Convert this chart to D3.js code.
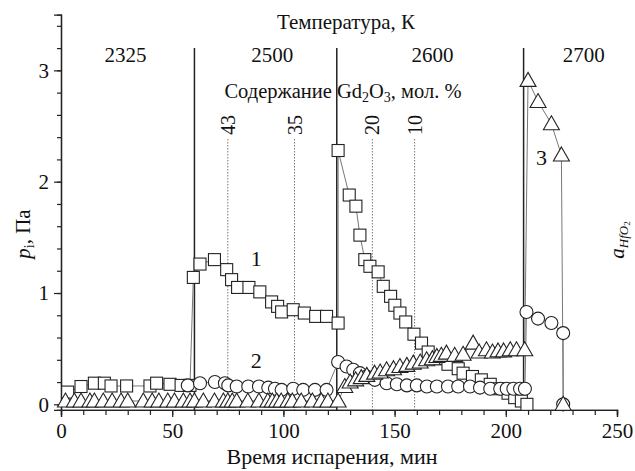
<!DOCTYPE html>
<html>
<head>
<meta charset="utf-8">
<script src="https://cdn.jsdelivr.net/npm/d3@7/dist/d3.min.js"></script>
<style>
  body { margin: 0; background: #fff; }
  svg text { font-family: 'Liberation Serif', 'Times New Roman', serif; fill: #111; }
</style>
</head>
<body>
<div id="chart"></div>
<script>
// ---- data: time (min) and pressure (Pa) ----
let s1Time = [3, 9, 15, 19.5, 22.5, 29.5, 40, 43, 49, 54, 58,
  59.5, 62.5, 69, 74.5, 76.7, 79.4, 84.5, 89.4, 94.7, 97.4, 99.2, 104.4, 109.4, 114.5, 119.4, 124.6,
  124.6, 129.6, 132.6, 134.4, 136.6, 138.9, 142.6, 144.9, 148.2, 150.1, 152.4, 155, 158.7, 162.1, 165.1, 169.6,
  174, 178.6, 180.8, 185, 189, 193, 197, 201, 204, 207, 209.5]
let s1Val = [0.11, 0.16, 0.19, 0.19, 0.165, 0.165, 0.165, 0.19, 0.18, 0.17, 0.17,
  1.14, 1.26, 1.30, 1.21, 1.12, 1.05, 1.05, 1.01, 0.92, 0.88, 0.83, 0.85, 0.82, 0.79, 0.79, 0.73,
  2.28, 1.88, 1.78, 1.52, 1.30, 1.24, 1.19, 1.06, 0.97, 0.89, 0.82, 0.74, 0.63, 0.55, 0.47, 0.41,
  0.36, 0.32, 0.28, 0.25, 0.22, 0.18, 0.14, 0.10, 0.06, 0.03, 0.0]

let s2Time = [57, 62.5, 69.2, 73.7, 75.2, 79, 84.2, 89, 93.2, 96.2, 99.2, 104.4, 108.9, 114.2, 119.4,
  124.6, 128.4, 131.4, 134.4, 137.4, 141.1, 146.4, 151, 155.5, 160, 164.5, 169, 174, 178.6, 183.9, 188.4, 193, 197.5, 200.4, 203.4, 206.4, 208.6,
  209.3, 214.5, 220.5, 225.8, 225.8]
let s2Val = [0.17, 0.19, 0.20, 0.19, 0.17, 0.16, 0.16, 0.16, 0.15, 0.14, 0.13, 0.14, 0.13, 0.13, 0.13,
  0.38, 0.34, 0.31, 0.28, 0.25, 0.22, 0.19, 0.18, 0.17, 0.17, 0.16, 0.16, 0.16, 0.16, 0.16, 0.15, 0.14, 0.14, 0.14, 0.14, 0.14, 0.14,
  0.83, 0.77, 0.73, 0.64, 0.0]

let s3Time = [2, 6, 9, 13, 15, 19, 23, 27, 30, 37, 41, 44, 48, 51, 55, 58,
  60, 64, 69, 73, 75, 77, 79, 84, 89, 93, 95, 97, 99, 102, 104, 108, 113, 117, 120, 124.6,
  127.6, 130, 132.5, 135, 137.5, 141, 143.5, 146.4, 149.5, 152.4, 155.5, 158.4, 161.5, 164.4, 167, 169, 171, 173.3, 177, 180.8, 185.3, 188, 191.3, 194, 196.5, 199, 202, 204.8, 208.5,
  210, 214.5, 220.5, 225, 225.8]
let s3Val = [0.03, 0.03, 0.03, 0.03, 0.03, 0.03, 0.03, 0.03, 0.03, 0.03, 0.03, 0.03, 0.03, 0.03, 0.03, 0.03,
  0.03, 0.03, 0.03, 0.03, 0.03, 0.03, 0.03, 0.03, 0.03, 0.03, 0.03, 0.03, 0.03, 0.03, 0.03, 0.03, 0.03, 0.03, 0.03, 0.03,
  0.16, 0.20, 0.22, 0.24, 0.26, 0.28, 0.29, 0.31, 0.32, 0.34, 0.35, 0.37, 0.38, 0.40, 0.41, 0.43, 0.44, 0.46, 0.44, 0.45, 0.55, 0.47, 0.49, 0.47, 0.48, 0.48, 0.49, 0.49, 0.49,
  2.91, 2.72, 2.52, 2.24, 0.0]

let tempBounds = [60, 124, 208]
let tempLabels = ['2325', '2500', '2600', '2700']
let tempLabelT = [29, 95, 167, 235]

let compT = [75, 105, 140, 159]
let compLabels = ['43', '35', '20', '10']

let xMajor = [0, 50, 100, 150, 200, 250]
let yMajor = [0, 1, 2, 3]

let seriesNames = ['1', '2', '3']
let seriesLabelT = [87.8, 87.8, 216]
let seriesLabelV = [1.31, 0.40, 2.22]

// ---- setup ----
var width = 635
var height = 471
var fs = '21px'

var svg = d3.select('#chart').append('svg')
  .attr('width', width)
  .attr('height', height)

var x = d3.scaleLinear().domain([0, 250]).range([61, 617])
var y = d3.scaleLinear().domain([-0.05, 3.5]).range([409.9, 14.7])

// ---- reference lines ----
svg.append('g').selectAll('line')
  .data(compT)
  .enter().append('line')
    .attr('x1', d => x(d)).attr('x2', d => x(d))
    .attr('y1', 139).attr('y2', y(-0.05))
    .attr('stroke', '#777')
    .attr('stroke-width', 1)
    .attr('stroke-dasharray', '1.5,1.5')

svg.append('g').selectAll('line')
  .data(tempBounds)
  .enter().append('line')
    .attr('x1', d => x(d)).attr('x2', d => x(d))
    .attr('y1', 48).attr('y2', y(-0.05))
    .attr('stroke', '#222')
    .attr('stroke-width', 1.5)

// ---- axes ----
var xAxisG = svg.append('g').attr('transform', 'translate(0,' + y(-0.05) + ')')
xAxisG.call(d3.axisBottom(x).tickValues(d3.range(0, 251, 10)).tickSize(5).tickFormat(''))
xAxisG.call(g => g.append('g').call(d3.axisBottom(x).tickValues(xMajor).tickSize(7).tickFormat(d3.format('d'))))

var yAxisG = svg.append('g').attr('transform', 'translate(' + x(0) + ',0)')
yAxisG.call(d3.axisLeft(y).tickValues(d3.range(0, 3.45, 0.2)).tickSize(4).tickFormat(''))
yAxisG.call(g => g.append('g').call(d3.axisLeft(y).tickValues(yMajor).tickSize(7).tickFormat(d3.format('d'))))

svg.selectAll('.domain').attr('stroke', '#222').attr('stroke-width', 1.3)
svg.selectAll('.tick line').attr('stroke', '#222').attr('stroke-width', 1.2)
svg.selectAll('.tick text')
  .style('font-family', "'Liberation Serif', serif")
  .style('font-size', fs)
  .attr('fill', '#111')
xAxisG.selectAll('.tick text').attr('y', 13)
yAxisG.selectAll('.tick text').attr('x', -12)

// ---- series ----
function seriesData (ts, vs) {
  return ts.map((t, i) => ({ t: t, v: vs[i] }))
}
var s1 = seriesData(s1Time, s1Val)
var s2 = seriesData(s2Time, s2Val)
var s3 = seriesData(s3Time, s3Val)

var line = d3.line().x(d => x(d.t)).y(d => y(d.v))

;[s1, s2, s3].forEach(s => {
  svg.append('path')
    .datum(s)
    .attr('d', line)
    .attr('fill', 'none')
    .attr('stroke', '#777')
    .attr('stroke-width', 1)
})

var markStroke = '#222'

svg.append('g').selectAll('rect')
  .data(s1)
  .enter().append('rect')
    .attr('x', d => x(d.t) - 6)
    .attr('y', d => y(d.v) - 6)
    .attr('width', 12).attr('height', 12)
    .attr('fill', '#fff')
    .attr('stroke', markStroke)
    .attr('stroke-width', 1.1)

svg.append('g').selectAll('circle')
  .data(s2)
  .enter().append('circle')
    .attr('cx', d => x(d.t))
    .attr('cy', d => y(d.v))
    .attr('r', 6.5)
    .attr('fill', '#fff')
    .attr('stroke', markStroke)
    .attr('stroke-width', 1.1)

svg.append('g').selectAll('path')
  .data(s3)
  .enter().append('path')
    .attr('transform', d => 'translate(' + x(d.t) + ',' + y(d.v) + ')')
    .attr('d', 'M0,-8L8,6L-8,6Z')
    .attr('fill', '#fff')
    .attr('stroke', markStroke)
    .attr('stroke-width', 1.1)

// series numbers
svg.append('g').selectAll('text')
  .data(seriesNames)
  .enter().append('text')
    .attr('x', (d, i) => x(seriesLabelT[i]))
    .attr('y', (d, i) => y(seriesLabelV[i]))
    .attr('dy', '.35em')
    .attr('text-anchor', 'middle')
    .style('font-size', '22px')
    .text(d => d)

// ---- titles ----
svg.append('text')
  .attr('x', 346).attr('y', 29)
  .attr('text-anchor', 'middle')
  .style('font-size', fs)
  .text('Температура, К')

svg.append('g').selectAll('text')
  .data(tempLabels)
  .enter().append('text')
    .attr('x', (d, i) => x(tempLabelT[i]))
    .attr('y', 62)
    .attr('text-anchor', 'middle')
    .style('font-size', fs)
    .text(d => d)

var comp = svg.append('text')
  .attr('x', 343).attr('y', 98)
  .attr('text-anchor', 'middle')
  .style('font-size', '20.5px')
comp.append('tspan').text('Содержание Gd')
comp.append('tspan').attr('dy', 4).style('font-size', '14px').text('2')
comp.append('tspan').attr('dy', -4).text('O')
comp.append('tspan').attr('dy', 4).style('font-size', '14px').text('3')
comp.append('tspan').attr('dy', -4).text(', мол. %')

svg.append('g').selectAll('text')
  .data(compLabels)
  .enter().append('text')
    .attr('transform', (d, i) => 'translate(' + (x(compT[i]) + 7) + ',125) rotate(-90)')
    .attr('text-anchor', 'middle')
    .style('font-size', '20px')
    .text(d => d)

svg.append('text')
  .attr('x', 332).attr('y', 464)
  .attr('text-anchor', 'middle')
  .style('font-size', '22px')
  .text('Время испарения, мин')

var yLab = svg.append('text')
  .attr('transform', 'translate(30,234) rotate(-90)')
  .attr('text-anchor', 'middle')
  .style('font-size', fs)
yLab.append('tspan').style('font-style', 'italic').text('p')
yLab.append('tspan').attr('dy', 4).style('font-size', '14px').text('i')
yLab.append('tspan').attr('dy', -4).text(', Па')

var aLab = svg.append('text')
  .attr('transform', 'translate(624,240) rotate(-90)')
  .attr('text-anchor', 'middle')
  .style('font-size', '21px')
aLab.append('tspan').style('font-style', 'italic').text('a')
aLab.append('tspan').attr('dy', 4).style('font-size', '13px').style('font-style', 'italic').text('HfO')
aLab.append('tspan').attr('dy', 2).style('font-size', '9px').text('2')
</script>
</body>
</html>
